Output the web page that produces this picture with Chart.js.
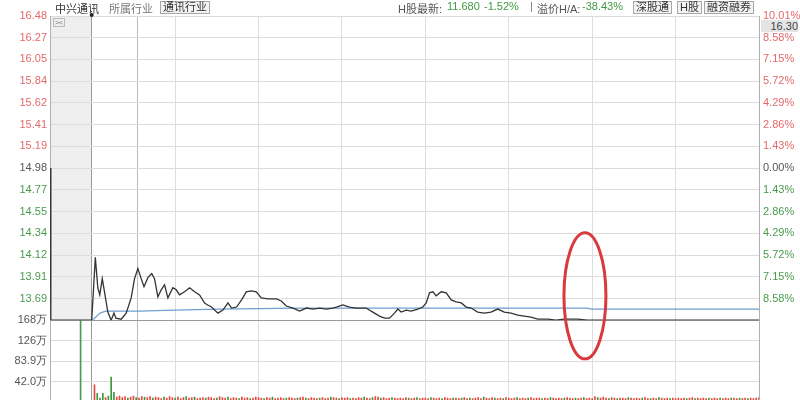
<!DOCTYPE html>
<html>
<head>
<meta charset="utf-8">
<script src="https://cdn.jsdelivr.net/npm/chart.js@4/dist/chart.umd.min.js"></script>
<style>
html, body { margin: 0; padding: 0; background: #fff; overflow: hidden; }
#wrap { position: relative; width: 800px; height: 404px; }
#myChart { position: absolute; left: 0; top: 0; }
.t { position: absolute; top: 0; line-height: 13px; white-space: nowrap;
     font: 11px "Liberation Sans", "Noto Sans CJK SC", sans-serif; color: #555; }
.btn { border: 1px solid #a8a8a8; background: #f3f3f3; color: #333; padding: 0 2px; line-height: 11px; top: 1px; }
.dn { color: #3f9a45; }
</style>
</head>
<body>
<div id="wrap">
<canvas id="myChart" width="800" height="404"></canvas>
<span class="t" style="left:55px;color:#333">中兴通讯</span>
<span class="t" style="left:109px;color:#777">所属行业</span>
<span class="t btn" style="left:160px">通讯行业</span>
<span class="t" style="left:398px">H股最新:</span>
<span class="t dn" style="left:447px">11.680</span>
<span class="t dn" style="left:484px">-1.52%</span>
<span class="t" style="left:530px;color:#777">|</span>
<span class="t" style="left:537px">溢价H/A:</span>
<span class="t dn" style="left:582px">-38.43%</span>
<span class="t btn" style="left:633px">深股通</span>
<span class="t btn" style="left:677px">H股</span>
<span class="t btn" style="left:704px">融资融券</span>
<span class="t" style="left:761px;top:20px;width:37px;text-align:right;background:#e4e4e4;color:#444">16.30</span>
<span class="t" style="left:53px;top:18px;font-size:7px;line-height:7px;border:1px solid #bbb;color:#777;padding:0 1px">&gt;&lt;</span>
</div>
<script>
// minutes counted from 9:15, call auction until 15, lunch break removed
var priceMin = 13.48, priceMax = 16.48;
var priceTickLabels = ['16.48', '16.27', '16.05', '15.84', '15.62', '15.41', '15.19', '14.98', '14.77', '14.55', '14.34', '14.12', '13.91', '13.69'];
var pctTickLabels = ['10.01%', '8.58%', '7.15%', '5.72%', '4.29%', '2.86%', '1.43%', '0.00%', '1.43%', '2.86%', '4.29%', '5.72%', '7.15%', '8.58%'];
var volMax = 167.8;
var volTickLabels = ['168万', '126万', '83.9万', '42.0万', ''];
var gridMinutes = [15, 31.6, 45, 75, 105, 135, 165, 195, 225, 255];
var auctionEnd = 15;
var cursorMinute = 31.6;

var priceTimes = [0, 0.3, 15, 16.3, 17.2, 17.9, 18.8, 19.6, 20.8, 22.0, 23.0, 23.7, 25.6, 27.4, 29.2, 30.4, 31.6, 32.8, 33.8, 35.2,
    36.6, 37.6, 38.8, 40.0, 41.2, 42.4, 44.2, 45.4, 46.6, 48.4, 50.2, 52.0, 53.8, 55.6, 56.7, 58.1, 60.4, 62.2, 64.0, 65.3,
    67.1, 68.9, 70.6, 72.4, 74.2, 76.0, 78.4, 81.4, 83.2, 85.0, 87.4, 89.8, 92.2, 94.6, 97.0, 99.4, 101.7, 103.0, 105.3, 107.7,
    110.2, 113.7, 116.1, 118.5, 120.3, 122.1, 123.9, 125.1, 126.3, 128.1, 129.9, 132.3, 134.1, 135.3, 136.5, 137.7, 138.9, 140.7, 142.5, 144.3,
    146.1, 147.9, 149.7, 151.5, 153.8, 156.2, 158.6, 161.0, 163.4, 165.8, 168.2, 170.6, 173.0, 175.4, 179.0, 182.0, 185.0, 189.7, 193.3, 255];
var priceValues = [14.98, 13.48, 13.48, 14.10, 13.80, 13.73, 13.89, 13.76, 13.56, 13.48, 13.55, 13.50, 13.49, 13.55, 13.70, 13.89, 13.99, 13.89, 13.81, 13.90,
    13.94, 13.89, 13.71, 13.78, 13.83, 13.70, 13.80, 13.78, 13.73, 13.76, 13.80, 13.76, 13.73, 13.65, 13.63, 13.61, 13.55, 13.58, 13.65, 13.60,
    13.61, 13.68, 13.76, 13.77, 13.76, 13.70, 13.69, 13.69, 13.67, 13.62, 13.60, 13.57, 13.60, 13.59, 13.60, 13.59, 13.60, 13.61, 13.63, 13.61,
    13.60, 13.60, 13.56, 13.52, 13.50, 13.50, 13.55, 13.59, 13.56, 13.58, 13.57, 13.59, 13.61, 13.65, 13.75, 13.76, 13.72, 13.76, 13.75, 13.68,
    13.66, 13.65, 13.61, 13.60, 13.56, 13.55, 13.56, 13.59, 13.56, 13.55, 13.53, 13.52, 13.51, 13.49, 13.49, 13.48, 13.49, 13.49, 13.48, 13.48];

var avgTimes = [15, 16, 18, 20, 24, 32, 45, 60, 90, 150, 193, 195, 255];
var avgValues = [13.48, 13.50, 13.55, 13.57, 13.57, 13.57, 13.58, 13.59, 13.60, 13.60, 13.60, 13.59, 13.59];

var auctionVolTime = 11, auctionVol = 168;
// one bar per minute from minute 16
var volValues = [35, 18, 8, 18, 9, 12, 51, 20, 10, 12,
    9, 11, 8, 10, 12, 9, 8, 11, 10, 9,
    11, 8, 10, 9, 7, 10, 8, 11, 9, 8,
    10, 7, 9, 11, 8, 9, 10, 7, 8, 9,
    8, 10, 9, 7, 8, 11, 9, 8, 10, 7,
    9, 8, 7, 10, 8, 9, 7, 8, 10, 9,
    8, 7, 9, 8, 10, 7, 8, 9, 7, 8,
    9, 8, 7, 8, 9, 10, 8, 7, 9, 8,
    7, 8, 9, 7, 8, 10, 9, 8, 7, 9,
    8, 9, 7, 8, 7, 9, 8, 10, 8, 7,
    9, 11, 10, 8, 9, 7, 8, 9, 8, 7,
    8, 7, 9, 8, 7, 8, 9, 7, 8, 8,
    7, 9, 8, 7, 8, 7, 9, 8, 7, 8,
    8, 7, 8, 9, 7, 8, 7, 8, 9, 7,
    10, 8, 7, 9, 8, 7, 8, 7, 9, 8,
    7, 8, 9, 7, 8, 7, 8, 9, 7, 8,
    8, 7, 8, 7, 9, 8, 7, 8, 7, 8,
    9, 8, 7, 8, 7, 8, 9, 7, 8, 7,
    11, 9, 8, 10, 8, 7, 9, 8, 7, 8,
    8, 7, 9, 8, 7, 8, 7, 8, 9, 7,
    7, 8, 7, 9, 8, 7, 8, 7, 8, 7,
    8, 7, 8, 7, 8, 9, 7, 8, 7, 8,
    7, 8, 7, 8, 7, 8, 7, 8, 7, 8,
    8, 7, 8, 7, 8, 7, 8, 7, 8, 9];
var volDir = 'uddduddduu' + 'uuduuduudu' + 'uduuuduuud' + 'uuuduuduuu' + 'duuuduuudu' + 'uuduuuduuu' +
    'uduuduuuud' + 'uuuduuduuu' + 'uduuuduudu' + 'uuduuuuduu' + 'duuduuuduu' + 'uuuduuduuu' +
    'uduuuduuud' + 'uuduuduuuu' + 'duuuduuduu' + 'uuduuuduuu' + 'uduuduuuud' + 'uuuduuduuu' +
    'uduuuduudu' + 'uuduuuuduu' + 'duuduuuduu' + 'uuuduuduuu' + 'uduuuduuud' + 'uuduuduuuu';

var circleAt = { t: 192.4, price: 13.72 };

var RED = '#e46a6a', GREEN = '#4a9a4e', GRAY = '#555';
var step = (priceMax - priceMin) / 14;
function priceIdx(v) { return Math.round((priceMax - v) / step); }
function tickVal(c) { return c && c.tick ? c.tick.value : null; }

var priceData = priceTimes.map(function (t, i) { return { x: t, y: priceValues[i] }; });
var avgData = avgTimes.map(function (t, i) { return { x: t, y: avgValues[i] }; });
var volData = [{ x: auctionVolTime, y: auctionVol }];
var volColors = [GREEN];
volValues.forEach(function (v, i) {
    volData.push({ x: 16 + i, y: v });
    volColors.push(volDir[i] === 'u' ? '#e8473f' : '#3a9a3a');
});

var tickFont = { family: 'Liberation Sans, Arial, sans-serif', size: 11 };

var overlay = {
    id: 'overlay',
    beforeDraw: function (chart) {
        var ctx = chart.ctx, x = chart.scales.x, y = chart.scales.yPrice;
        var x0 = x.getPixelForValue(0), x1 = x.getPixelForValue(auctionEnd);
        ctx.save();
        ctx.fillStyle = '#efefef';
        ctx.fillRect(x0, y.top, x1 - x0, y.bottom - y.top);
        ctx.restore();
    },
    afterDraw: function (chart) {
        var ctx = chart.ctx, x = chart.scales.x, y = chart.scales.yPrice;
        ctx.save();
        ctx.fillStyle = '#222';
        ctx.beginPath();
        ctx.arc(x.getPixelForValue(auctionEnd), y.top - 1, 2, 0, Math.PI * 2);
        ctx.fill();
        ctx.strokeStyle = '#d83a3e';
        ctx.lineWidth = 3;
        ctx.beginPath();
        ctx.ellipse(x.getPixelForValue(circleAt.t), y.getPixelForValue(circleAt.price), 21, 63, 0, 0, Math.PI * 2);
        ctx.stroke();
        ctx.restore();
    }
};

function pctColor(c) {
    var v = tickVal(c);
    if (v === null) return GRAY;
    var i = priceIdx(v);
    return i < 7 ? RED : (i === 7 ? GRAY : GREEN);
}

var ctx = document.getElementById('myChart').getContext('2d');
var myChart = new Chart(ctx, {
    data: {
        datasets: [
            {
                type: 'line',
                label: '价格',
                data: priceData,
                yAxisID: 'yPrice',
                borderColor: '#333',
                borderWidth: 1.3,
                pointRadius: 0,
                tension: 0
            },
            {
                type: 'line',
                label: '均价',
                data: avgData,
                yAxisID: 'yPrice',
                borderColor: '#6f9fd0',
                borderWidth: 1.2,
                pointRadius: 0,
                tension: 0
            },
            {
                type: 'bar',
                label: '成交量',
                data: volData,
                yAxisID: 'yVol',
                backgroundColor: volColors,
                barThickness: 1
            }
        ]
    },
    options: {
        responsive: false,
        animation: false,
        devicePixelRatio: 1,
        layout: { padding: { top: 16, bottom: 2, left: 0, right: 0 } },
        plugins: { legend: { display: false }, tooltip: { enabled: false } },
        scales: {
            x: {
                type: 'linear', min: 0, max: 255, offset: false,
                afterFit: function (s) { s.height = 0; },
                afterBuildTicks: function (s) { s.ticks = gridMinutes.map(function (v) { return { value: v }; }); },
                ticks: { display: false },
                grid: {
                    offset: false,
                    drawTicks: false,
                    color: function (c) {
                        var v = tickVal(c);
                        if (v === auctionEnd) return '#9a9a9a';
                        if (v === cursorMinute) return '#b8b8b8';
                        return '#dedede';
                    }
                },
                border: { display: false }
            },
            yVol: {
                type: 'linear', position: 'left', stack: 'left', stackWeight: 82,
                min: 0, max: volMax,
                afterFit: function (s) { s.width = 50; s.paddingTop = 0; s.paddingBottom = 0; },
                afterBuildTicks: function (s) {
                    var t = [];
                    for (var i = 4; i >= 0; i--) t.push({ value: volMax - i * volMax / 4 });
                    s.ticks = t;
                },
                ticks: {
                    font: tickFont, padding: 3, color: GRAY, autoSkip: false,
                    callback: function (v) { return volTickLabels[Math.round((volMax - v) / (volMax / 4))]; }
                },
                grid: {
                    drawTicks: false,
                    color: function (c) { var v = tickVal(c); return v !== null && v < 1 ? 'rgba(0,0,0,0)' : '#dcdcdc'; }
                },
                border: { color: '#b0b0b0' }
            },
            yPrice: {
                type: 'linear', position: 'left', stack: 'left', stackWeight: 305,
                min: priceMin, max: priceMax,
                afterFit: function (s) { s.width = 50; s.paddingTop = 0; s.paddingBottom = 0; },
                afterBuildTicks: function (s) {
                    var t = [];
                    for (var i = 14; i >= 0; i--) t.push({ value: priceMax - i * step });
                    s.ticks = t;
                },
                ticks: {
                    font: tickFont, padding: 3, autoSkip: false,
                    callback: function (v) { var i = priceIdx(v); return i < 14 ? priceTickLabels[i] : ''; },
                    color: pctColor
                },
                grid: {
                    drawTicks: false,
                    color: function (c) { var v = tickVal(c); return v !== null && priceIdx(v) === 14 ? '#9a9a9a' : '#dcdcdc'; }
                },
                border: { color: '#b0b0b0' }
            },
            yPct: {
                type: 'linear', position: 'right', stack: 'right', stackWeight: 305,
                min: priceMin, max: priceMax,
                afterFit: function (s) { s.width = 41; s.paddingTop = 0; s.paddingBottom = 0; },
                afterBuildTicks: function (s) {
                    var t = [];
                    for (var i = 13; i >= 0; i--) t.push({ value: priceMax - i * step });
                    s.ticks = t;
                },
                ticks: {
                    font: tickFont, padding: 4, autoSkip: false,
                    callback: function (v) { return pctTickLabels[priceIdx(v)]; },
                    color: pctColor
                },
                grid: { display: false, drawTicks: false },
                border: { color: '#b0b0b0' }
            },
            yPctLow: {
                type: 'linear', position: 'right', stack: 'right', stackWeight: 82,
                min: 0, max: volMax,
                afterFit: function (s) { s.width = 41; s.paddingTop = 0; s.paddingBottom = 0; },
                ticks: { display: false },
                grid: { display: false, drawTicks: false },
                border: { color: '#b0b0b0' }
            }
        }
    },
    plugins: [overlay]
});
</script>
</body>
</html>
